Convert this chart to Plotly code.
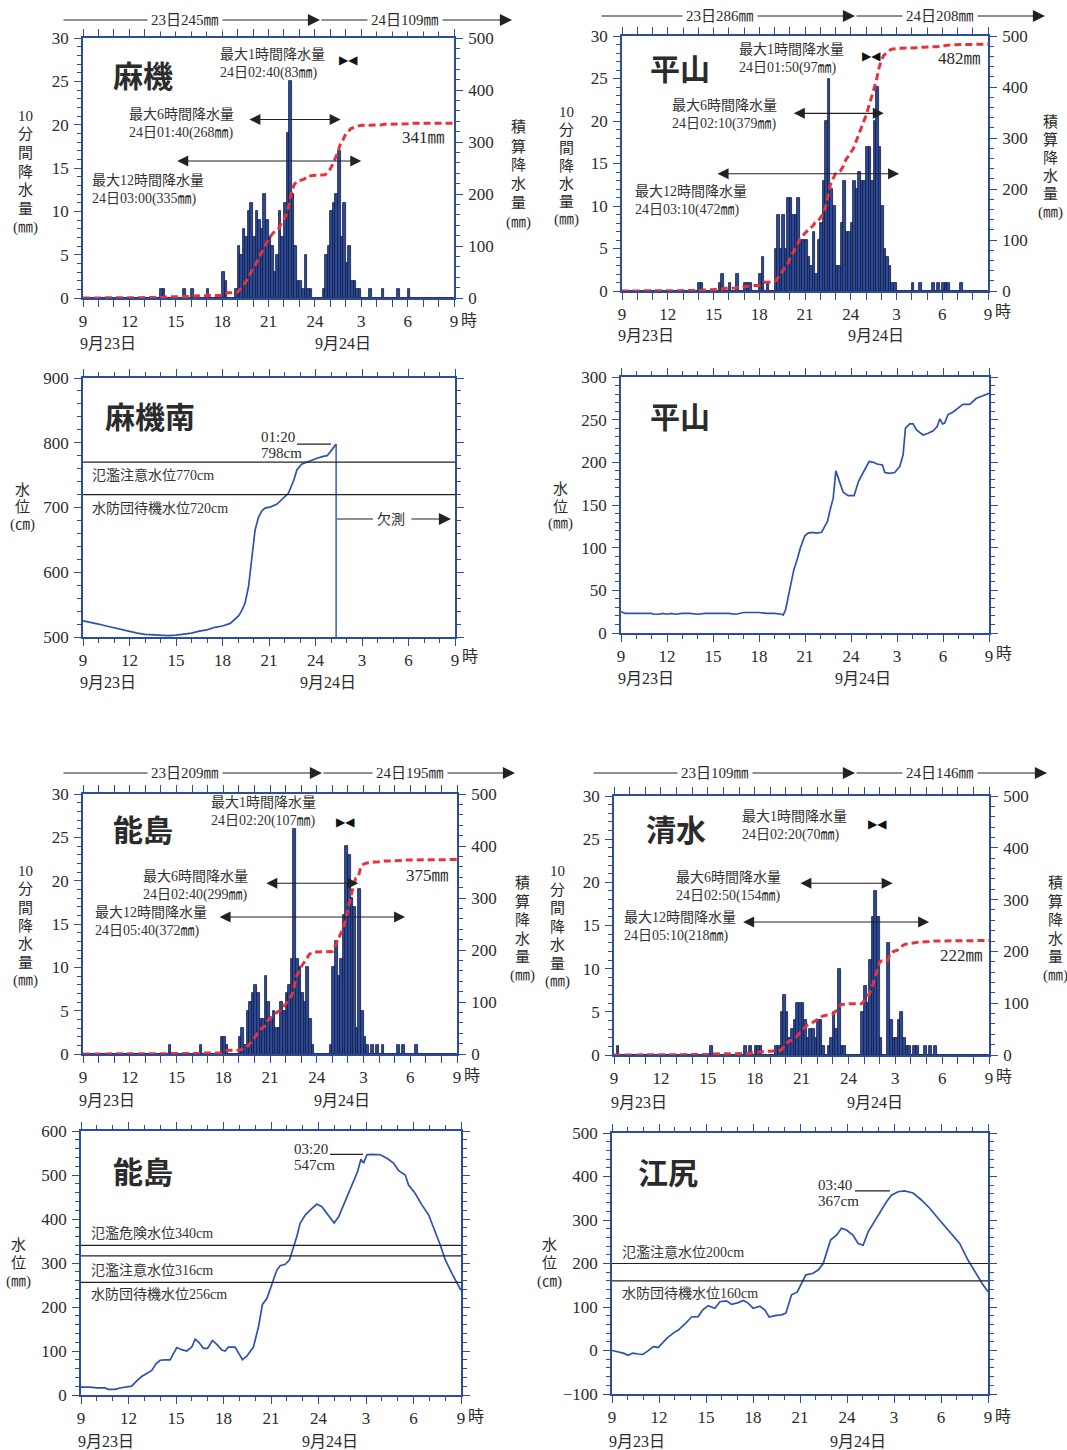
import numpy as np
import plotly.graph_objects as go

W, H = 1067, 1450
AX = "#2b4da0"
INK = "#2b2b2b"
NUM = "Liberation Serif, Noto Sans CJK JP, serif"

# ---------------- data ----------------
hour_ticks = [0, 3, 6, 9, 12, 15, 18, 21, 24]
hour_labels = ["9", "12", "15", "18", "21", "24", "3", "6", "9"]
date_labels = ["9月23日", "9月24日"]

# 10-minute rainfall (mm) from 23日09:00, one row per hour (6 values)
asahata_rain = [
    0, 0, 0, 0, 0, 0,   # 09
    0, 0, 0, 0, 0, 0,   # 10
    0, 0, 0, 0, 0, 0,   # 11
    0, 0, 0, 0, 0, 0,   # 12
    0, 0, 0, 0, 0, 0,   # 13
    1, 1, 0, 0, 0, 0,   # 14
    0, 0, 0, 1, 0, 0,   # 15
    1, 0, 0, 0, 0, 0,   # 16
    1, 0, 0, 0, 0, 0,   # 17
    3, 2, 0, 0, 0, 1,   # 18
    6, 5, 8, 7, 10, 11,  # 19
    7, 10, 9, 8, 12, 9,  # 20
    7, 6, 3, 5, 10, 7,  # 21
    11, 19, 25, 12, 6, 2,  # 22
    2, 1, 5, 1, 1, 0,   # 23
    0, 0, 0, 1, 5, 6,   # 00
    10, 11, 12, 17, 7, 11,  # 01
    4, 6, 2, 2, 1, 1,   # 02
    0, 0, 0, 1, 0, 0,   # 03
    0, 0, 1, 0, 0, 0,   # 04
    0, 0, 1, 0, 0, 0,   # 05
    1, 0, 0, 0, 0, 0,   # 06
    0, 0, 0, 0, 0, 0,   # 07
    0, 0, 0, 0, 0, 0,   # 08
]
hirayama_rain = [
    0, 0, 0, 0, 0, 0,
    0, 0, 0, 0, 0, 0,
    0, 0, 0, 0, 0, 0,
    0, 0, 0, 0, 0, 0,
    0, 0, 0, 0, 0, 0,
    1, 1, 0, 0, 0, 0,   # 14
    0, 0, 1, 2, 0, 0,   # 15
    1, 0, 0, 2, 0, 0,   # 16
    1, 1, 1, 0, 0, 0,   # 17
    2, 4, 0, 1, 0, 0,   # 18
    5, 9, 5, 9, 5, 11,  # 19
    11, 9, 9, 11, 6, 6,  # 20
    6, 4, 3, 7, 2, 6,   # 21
    8, 13, 20, 25, 12, 10,  # 22
    3, 3, 8, 13, 7, 7,  # 23
    8, 13, 12, 14, 13, 13,  # 00
    17, 17, 13, 20, 24, 17,  # 01
    10, 5, 4, 3, 1, 1,  # 02
    0, 0, 0, 0, 0, 0,   # 03
    1, 0, 0, 1, 0, 0,   # 04
    0, 0, 1, 0, 1, 0,   # 05
    1, 1, 1, 0, 0, 0,   # 06
    0, 1, 0, 0, 0, 0,   # 07
    0, 0, 0, 0, 0, 0,   # 08
]
noshima_rain = [
    0, 0, 0, 0, 0, 0,
    0, 0, 0, 0, 0, 0,
    0, 0, 0, 0, 0, 0,
    0, 0, 0, 0, 0, 0,
    0, 0, 0, 0, 0, 0,
    0, 0, 0, 1, 0, 0,   # 14
    0, 0, 0, 0, 0, 0,   # 15
    0, 0, 0, 1, 0, 0,   # 16
    0, 0, 0, 0, 0, 2,   # 17
    2, 1, 0, 0, 0, 0,   # 18
    2, 3, 1, 5, 6, 7,   # 19
    8, 7, 4, 4, 9, 6,   # 20
    4, 5, 3, 3, 6, 5,   # 21
    7, 8, 11, 26, 11, 10,  # 22
    7, 6, 10, 4, 1, 0,  # 23
    0, 0, 0, 0, 0, 1,   # 00
    10, 13, 9, 11, 16, 24,  # 01
    23, 18, 17, 3, 19, 5,  # 02
    2, 1, 0, 1, 0, 1,   # 03
    0, 1, 0, 0, 0, 0,   # 04
    0, 1, 0, 1, 0, 0,   # 05
    0, 0, 1, 0, 0, 0,   # 06
    0, 0, 0, 0, 0, 0,   # 07
    0, 0, 0, 0, 0, 0,   # 08
]
shimizu_rain = [
    0, 1, 0, 0, 0, 0,   # 09
    0, 0, 0, 0, 0, 0,
    0, 0, 0, 0, 0, 0,
    0, 0, 0, 0, 0, 0,
    0, 0, 0, 0, 0, 0,
    0, 0, 0, 0, 0, 0,   # 14
    0, 1, 0, 0, 0, 0,   # 15
    0, 0, 0, 0, 0, 0,   # 16
    0, 0, 1, 0, 1, 0,   # 17
    1, 1, 1, 0, 0, 0,   # 18
    0, 0, 1, 1, 5, 7,   # 19
    5, 2, 3, 4, 6, 6,   # 20
    6, 4, 2, 3, 3, 2,   # 21
    4, 4, 1, 0, 1, 2,   # 22
    5, 3, 10, 1, 1, 0,  # 23
    0, 0, 0, 0, 0, 5,   # 00
    8, 6, 11, 16, 19, 16,  # 01
    2, 0, 0, 13, 4, 2,  # 02
    2, 4, 5, 2, 1, 1,   # 03
    0, 1, 1, 0, 0, 1,   # 04
    0, 1, 0, 1, 0, 0,   # 05
    0, 0, 0, 0, 0, 0,
    0, 0, 0, 0, 0, 0,
    0, 0, 0, 0, 0, 0,
]

asahata_daily = [245, 109]
hirayama_daily = [286, 208]
noshima_daily = [209, 195]
shimizu_daily = [109, 146]
asahata_total = 341
hirayama_total = 482
noshima_total = 375
shimizu_total = 222
# (window hours, end time, amount mm)
asahata_max = [(1, "24日02:40", 83), (6, "24日01:40", 268), (12, "24日03:00", 335)]
hirayama_max = [(1, "24日01:50", 97), (6, "24日02:10", 379), (12, "24日03:10", 472)]
noshima_max = [(1, "24日02:20", 107), (6, "24日02:40", 299), (12, "24日05:40", 372)]
shimizu_max = [(1, "24日02:20", 70), (6, "24日02:50", 154), (12, "24日05:10", 218)]

# water levels: hours since 23日09:00, level
asahata_minami_t = [0, 0.5, 1, 1.5, 2, 2.5, 3, 3.5, 4, 4.5, 5, 5.5, 6, 6.5, 7, 7.5, 8, 8.5,
                    9, 9.5, 9.75, 10.05, 10.25, 10.45, 10.68, 10.89, 11.1, 11.32, 11.54, 11.75,
                    12.1, 12.5, 12.9, 13.25, 13.6, 13.8, 14.1, 14.5, 15.1, 15.5, 15.75, 16.05, 16.33]
asahata_minami_v = [525, 523, 520, 517, 514, 512, 509, 506, 504, 503, 502, 502, 503, 504, 506, 509, 511, 515,
                    517, 521, 527, 533, 541, 552, 578, 624, 665, 685, 695, 699,
                    701, 705, 714, 722, 742, 758, 767, 771, 776, 779, 780, 789, 798]
asahata_minami_th = [("氾濫注意水位", 770, -13), ("水防団待機水位", 720, -14)]
asahata_minami_peak = ("24日01:20", 798)

hirayama_t = [0, 0.25, 1, 2, 2.1, 2.5, 2.7, 3, 3.3, 3.5, 4, 4.5, 5, 5.5, 6, 7, 7.5, 8, 8.5, 9, 9.5, 10,
              10.5, 10.58, 10.73, 10.9, 11.08, 11.27, 11.49, 11.7, 11.99, 12.2, 12.49, 12.75, 13.08, 13.29,
              13.47, 13.66, 13.84, 14.01, 14.23, 14.49, 14.82, 15.2, 15.5, 15.83, 16.18, 16.48, 16.7, 17.05,
              17.2, 17.53, 17.85, 18.18, 18.4, 18.55, 18.83, 19.05, 19.27, 19.7, 20.03, 20.36, 20.62, 20.8,
              20.97, 21.11, 21.33, 21.66, 21.98, 22.3, 22.74, 23.18, 23.61, 24]
hirayama_v = [25, 23, 23, 23, 22, 22, 23, 22, 23, 22, 23, 23, 22, 23, 23, 23, 22, 24, 24, 24, 23, 23,
              22, 21, 27, 41, 57, 74, 86, 100, 114, 117, 118, 117, 118, 125,
              131, 146, 158, 190, 178, 165, 161, 161, 178, 190, 201, 200, 198, 197,
              188, 187, 188, 195, 209, 240, 245, 245, 238, 232, 234, 237, 242, 251,
              245, 246, 256, 259, 264, 268, 268, 275, 278, 281]

noshima_t = [0, 0.57, 1.0, 1.52, 1.73, 2.15, 2.47, 2.78, 3.2, 3.52, 3.83, 4.15, 4.47, 4.74, 4.99, 5.31,
             5.63, 5.84, 6.05, 6.36, 6.68, 7.0, 7.21, 7.48, 7.73, 7.99, 8.3, 8.58, 8.89, 9.1, 9.31, 9.73,
             9.99, 10.2, 10.47, 10.89, 11.21, 11.46, 11.74, 11.99, 12.16, 12.37, 12.58, 12.9, 13.17, 13.42,
             13.63, 13.84, 14.16, 14.52, 14.9, 15.21, 15.53, 15.85, 15.99, 16.27, 16.58, 16.9, 17.21, 17.47,
             17.68, 17.85, 18.06, 18.37, 18.9, 19.32, 19.74, 20.06, 20.48, 20.69, 21.11, 21.53, 21.96, 22.38,
             22.69, 23.01, 23.43, 24]
noshima_v = [18, 18, 16, 16, 13, 13, 16, 18, 20, 32, 42, 49, 56, 71, 79, 80,
             80, 94, 108, 103, 100, 109, 127, 118, 106, 106, 124, 115, 102, 100, 109, 109,
             94, 80, 88, 109, 155, 206, 219, 246, 265, 284, 294, 297, 307, 333,
             360, 390, 409, 422, 434, 428, 413, 398, 391, 405, 432, 458, 485, 508,
             536, 527, 546, 547, 546, 538, 527, 510, 500, 477, 458, 432, 409, 371,
             341, 307, 276, 238]
noshima_th = [("氾濫危険水位", 340, 12), ("氾濫注意水位", 316, -14), ("水防団待機水位", 256, -12)]
noshima_peak = ("24日03:20", 547)

ejiri_t = [0, 0.4, 0.72, 1.04, 1.32, 1.68, 1.96, 2.25, 2.64, 2.95, 3.17, 3.49, 3.91, 4.23, 4.66, 5.08,
           5.51, 5.78, 6.14, 6.57, 6.89, 7.31, 7.63, 8.06, 8.38, 8.69, 9.01, 9.44, 9.76, 10.03, 10.4,
           10.82, 11.1, 11.46, 11.82, 12.1, 12.37, 12.8, 13.16, 13.48, 13.69, 13.95, 14.33, 14.65, 14.97,
           15.39, 15.71, 16.03, 16.35, 16.67, 17.09, 17.52, 17.84, 18.26, 18.67, 19.22, 19.75, 20.28,
           20.81, 21.45, 22.19, 22.72, 23.26, 23.68, 24]
ejiri_v = [0, -4, -6, -11, -6, -8, -9, -2, 9, 7, 15, 28, 40, 47, 61, 77,
           78, 93, 103, 97, 112, 114, 106, 110, 115, 109, 97, 102, 93, 77, 80,
           82, 86, 128, 134, 154, 174, 177, 185, 200, 223, 254, 265, 281, 277,
           265, 246, 242, 273, 292, 315, 342, 357, 365, 367, 362, 346, 327,
           304, 277, 246, 208, 174, 151, 135]
ejiri_th = [("氾濫注意水位", 200, 12), ("水防団待機水位", 160, -13)]
ejiri_peak = ("24日03:40", 367)

# ---------------- layout helpers ----------------
BOX = {  # plot area in page pixels: x0, x1, ytop, ybottom
    1: (83, 454, 38, 298),
    2: (622, 988, 36, 291),
    3: (83, 455, 378, 637),
    4: (621, 989, 377, 633),
    5: (83, 457, 794, 1054),
    6: (614, 989, 796, 1055),
    7: (81, 461, 1131, 1395),
    8: (612, 988, 1133, 1394),
}


def nm(k):
    return "" if k == 1 else str(k)


def hrs(stamp):
    day, hh, mm = int(stamp[:2]), int(stamp[3:5]), int(stamp[6:8])
    return (day - 23) * 24 + hh + mm / 60 - 9


def px(x):
    return x / W


def py(y):
    return 1 - y / H


layout = dict(width=W, height=H, margin=dict(l=0, r=0, t=0, b=0, pad=0), autosize=False,
              paper_bgcolor="white", plot_bgcolor="white", showlegend=False,
              bargap=0, barmode="overlay")
annots, shapes = [], []
fig = go.Figure()

TICKFONT = dict(family=NUM, size=17, color=INK)


def add_xaxis(k):
    x0, x1, yt, yb = BOX[k]
    layout["xaxis" + nm(k)] = dict(
        domain=[px(x0), px(x1)], anchor="y" + nm(k), range=[0, 24], automargin=False,
        tickmode="array", tickvals=hour_ticks, ticktext=hour_labels,
        ticks="outside", ticklen=7, tickwidth=1.3, tickcolor=AX,
        showline=True, linecolor=AX, linewidth=1.6, mirror="allticks",
        minor=dict(tickmode="linear", tick0=0, dtick=1, ticks="outside", ticklen=4,
                   tickwidth=1.1, tickcolor=AX, showgrid=False),
        showgrid=False, zeroline=False, tickfont=TICKFONT, ticklabelstandoff=0)


def add_yaxis(k, rng, dtick, mdtick, mirror):
    x0, x1, yt, yb = BOX[k]
    layout["yaxis" + nm(k)] = dict(
        domain=[py(yb), py(yt)], anchor="x" + nm(k), range=rng, automargin=False,
        tickmode="linear", tick0=rng[0], dtick=dtick,
        ticks="outside", ticklen=7, tickwidth=1.3, tickcolor=AX,
        showline=True, linecolor=AX, linewidth=1.6, mirror=mirror,
        minor=dict(tickmode="linear", tick0=rng[0], dtick=mdtick, ticks="outside", ticklen=4,
                   tickwidth=1.1, tickcolor=AX, showgrid=False),
        showgrid=False, zeroline=False, tickfont=TICKFONT, ticklabelstandoff=2)


def text(x, y, s, size=14, xanchor="left", yanchor="middle", bg=None, family=NUM, color=INK):
    d = dict(x=px(x), y=py(y), xref="paper", yref="paper", text=s, showarrow=False,
             xanchor=xanchor, yanchor=yanchor, font=dict(family=family, size=size, color=color))
    if bg:
        d.update(bgcolor=bg, borderpad=3)
    annots.append(d)


def paper_arrow(xa, xb, y):
    annots.append(dict(x=px(xb), y=py(y), xref="paper", yref="paper", ax=xa - xb, ay=0,
                       axref="pixel", ayref="pixel", showarrow=True, arrowhead=2, arrowsize=2.2,
                       arrowwidth=1.1, arrowcolor="#222", text="", standoff=0))


def vtitle(x, y0, step, items, size=15):
    for i, s in enumerate(items):
        text(x, y0 + i * step, s, size=size, xanchor="center")


def axis_extras(k, row_y, dates_x, date_y):
    x0, x1, yt, yb = BOX[k]
    text(x1 + 5, row_y, "時", size=16, xanchor="left")
    for dx, lab in zip(dates_x, date_labels):
        text(dx, date_y, lab, size=16, xanchor="center")


# ---------------- rainfall panels ----------------
RAIN = [
    dict(k=1, r=9, rain=asahata_rain, name="麻機", daily=asahata_daily, total=asahata_total,
         maxw=asahata_max, name_xy=(143, 76), hdr=(20, 62, 320, 512, 185, 405),
         lab={1: (218, 45), 6: (127, 105), 12: (90, 171)}, ay={1: 27.5, 6: 20.6, 12: 15.8},
         tot_xy=(447, 137), yl=(25, 116, 18.5), yr=(518, 127, 19), row=320, dates=(108, 343), dy=343),
    dict(k=2, r=10, rain=hirayama_rain, name="平山", daily=hirayama_daily, total=hirayama_total,
         maxw=hirayama_max, name_xy=(680, 70), hdr=(16, 600, 855, 1045, 720, 940),
         lab={1: (737, 40), 6: (670, 96), 12: (633, 182)}, ay={1: 27.6, 6: 20.9, 12: 13.8},
         tot_xy=(983, 59), yl=(566, 112, 18), yr=(1050, 122, 18), row=311, dates=(646, 876), dy=335),
    dict(k=5, r=11, rain=noshima_rain, name="能島", daily=noshima_daily, total=noshima_total,
         maxw=noshima_max, name_xy=(143, 830), hdr=(773, 62, 322, 515, 185, 410),
         lab={1: (209, 793), 6: (141, 867), 12: (93, 903)}, ay={1: 26.8, 6: 19.7, 12: 15.8},
         tot_xy=(451, 875), yl=(25, 871, 18.3), yr=(522, 883, 18.5), row=1075, dates=(107, 342), dy=1100),
    dict(k=6, r=12, rain=shimizu_rain, name="清水", daily=shimizu_daily, total=shimizu_total,
         maxw=shimizu_max, name_xy=(676, 830), hdr=(773, 592, 855, 1047, 715, 940),
         lab={1: (740, 807), 6: (674, 868), 12: (622, 908)}, ay={1: 26.8, 6: 19.9, 12: 15.4},
         tot_xy=(985, 955), yl=(557, 871, 18.5), yr=(1055, 883, 18.5), row=1076, dates=(639, 875), dy=1102),
]

for P in RAIN:
    k, r = P["k"], P["r"]
    add_xaxis(k)
    add_yaxis(k, [0, 30], 5, 1, False)
    x0, x1, yt, yb = BOX[k]
    layout["yaxis" + str(r)] = dict(
        overlaying="y" + nm(k), side="right", anchor="x" + nm(k), range=[0, 500], automargin=False,
        tickmode="linear", tick0=0, dtick=100, ticks="outside", ticklen=7, tickwidth=1.3,
        tickcolor=AX, showline=True, linecolor=AX, linewidth=1.6,
        minor=dict(tickmode="linear", tick0=0, dtick=20, ticks="outside", ticklen=4,
                   tickwidth=1.1, tickcolor=AX, showgrid=False),
        showgrid=False, zeroline=False, tickfont=TICKFONT, ticklabelstandoff=2)
    vals = np.array(P["rain"], dtype=float)
    n = len(vals)
    centers = (np.arange(n) + 0.5) / 6
    ends = np.concatenate([[0.0], (np.arange(n) + 1) / 6])
    cum = np.concatenate([[0.0], np.cumsum(vals)])
    fig.add_trace(go.Bar(x=centers, y=vals, width=1 / 6, xaxis="x" + nm(k), yaxis="y" + nm(k),
                         marker=dict(color="#2a4a9e", line=dict(color="#161c38", width=0.8))))
    fig.add_trace(go.Scatter(x=ends, y=cum, xaxis="x" + nm(k), yaxis="y" + str(r), mode="lines",
                             line=dict(color="#e8323a", width=3, dash="7px,4px")))
    # header with daily totals
    hy, a0, am, a1, t1, t2 = P["hdr"]
    paper_arrow(a0, am, hy)
    paper_arrow(am, a1, hy)
    text(t1, hy, f"23日{P['daily'][0]}㎜", size=15, xanchor="center", bg="white")
    text(t2, hy, f"24日{P['daily'][1]}㎜", size=15, xanchor="center", bg="white")
    # station name
    text(P["name_xy"][0], P["name_xy"][1], f"<b>{P['name']}</b>", size=30, xanchor="center")
    # max windows
    for hours, stamp, amt in P["maxw"]:
        lx, ly = P["lab"][hours]
        annots.append(dict(x=px(lx), y=py(ly), xref="paper", yref="paper", showarrow=False,
                           xanchor="left", yanchor="top", align="left",
                           text=f"最大{hours}時間降水量<br>{stamp}({amt}㎜)",
                           font=dict(family=NUM, size=14, color="#333")))
        te = hrs(stamp)
        ts = te - hours
        yv = P["ay"][hours]
        if hours == 1:
            annots.append(dict(x=(ts + te) / 2, y=yv, xref="x" + nm(k), yref="y" + nm(k),
                               text="▶◀", showarrow=False,
                               font=dict(family="DejaVu Sans", size=12, color="#111")))
        else:
            annots.append(dict(x=te, y=yv, ax=ts, ay=yv, xref="x" + nm(k), yref="y" + nm(k),
                               axref="x" + nm(k), ayref="y" + nm(k), text="", showarrow=True,
                               arrowhead=2, startarrowhead=2, arrowside="end+start",
                               arrowsize=2.0, startarrowsize=2.0, arrowwidth=1.1,
                               arrowcolor="#222", standoff=0, startstandoff=0))
    text(P["tot_xy"][0], P["tot_xy"][1], f"{P['total']}㎜", size=17, xanchor="right")
    vtitle(P["yl"][0], P["yl"][1], P["yl"][2], ["10", "分", "間", "降", "水", "量", "(㎜)"])
    vtitle(P["yr"][0], P["yr"][1], P["yr"][2], ["積", "算", "降", "水", "量", "(㎜)"])
    axis_extras(k, P["row"], P["dates"], P["dy"])

# ---------------- water level panels ----------------
LEVEL = [
    dict(k=3, t=asahata_minami_t, v=asahata_minami_v, name="麻機南", rng=[500, 900], dt=100, mdt=20,
         th=asahata_minami_th, peak=asahata_minami_peak, name_xy=(150, 418),
         peak_txt=(259, 437), peak_line=(297, 331), unit="(㎝)", yl=(22, 490, 17.5),
         row=657, dates=(108, 328), dy=682),
    dict(k=4, t=hirayama_t, v=hirayama_v, name="平山", rng=[0, 300], dt=50, mdt=10,
         th=[], peak=None, name_xy=(680, 417), unit="(㎜)", yl=(560, 489, 17.5),
         row=653, dates=(646, 863), dy=678),
    dict(k=7, t=noshima_t, v=noshima_v, name="能島", rng=[0, 600], dt=100, mdt=20,
         th=noshima_th, peak=noshima_peak, name_xy=(143, 1172),
         peak_txt=(292, 1149), peak_line=(330, 363), unit="(㎜)", yl=(18, 1245, 18),
         row=1416, dates=(106, 330), dy=1441),
    dict(k=8, t=ejiri_t, v=ejiri_v, name="江尻", rng=[-100, 500], dt=100, mdt=20,
         th=ejiri_th, peak=ejiri_peak, name_xy=(668, 1173),
         peak_txt=(816, 1185), peak_line=(855, 890), unit="(㎝)", yl=(550, 1245, 18),
         row=1416, dates=(637, 858), dy=1441),
]

for P in LEVEL:
    k = P["k"]
    add_xaxis(k)
    add_yaxis(k, P["rng"], P["dt"], P["mdt"], "allticks")
    fig.add_trace(go.Scatter(x=P["t"], y=P["v"], xaxis="x" + nm(k), yaxis="y" + nm(k), mode="lines",
                             line=dict(color="#2d52ad", width=1.7)))
    text(P["name_xy"][0], P["name_xy"][1], f"<b>{P['name']}</b>", size=30, xanchor="center")
    for lab, lv, shift in P["th"]:
        shapes.append(dict(type="line", xref="x" + nm(k) + " domain", yref="y" + nm(k),
                           x0=0, x1=1, y0=lv, y1=lv, line=dict(color="#222", width=1.2)))
        annots.append(dict(x=0.02, y=lv, xref="x" + nm(k) + " domain", yref="y" + nm(k),
                           text=f"{lab}{lv}cm", showarrow=False, xanchor="left", yanchor="middle",
                           yshift=shift, font=dict(family=NUM, size=14, color="#333")))
    if P["peak"]:
        stamp, pv = P["peak"]
        tx, ty = P["peak_txt"]
        text(tx, ty, stamp[3:], size=15, xanchor="left")
        text(tx, ty + 16, f"{pv}cm", size=15, xanchor="left")
        la, lb = P["peak_line"]
        shapes.append(dict(type="line", xref="paper", yref="y" + nm(k), x0=px(la), x1=px(lb),
                           y0=pv, y1=pv, line=dict(color="#222", width=1.2)))
    vtitle(P["yl"][0], P["yl"][1], P["yl"][2], ["水", "位", P["unit"]])
    axis_extras(k, P["row"], P["dates"], P["dy"])

# 麻機南: missing data after the last observation
t_last, v_last = asahata_minami_t[-1], asahata_minami_v[-1]
fig.add_trace(go.Scatter(x=[t_last, t_last], y=[v_last, LEVEL[0]["rng"][0]], xaxis="x3", yaxis="y3",
                         mode="lines", line=dict(color="#2d52ad", width=1.4)))
shapes.append(dict(type="line", xref="paper", yref="paper", x0=px(337), x1=px(373),
                   y0=py(519), y1=py(519), line=dict(color="#222", width=1.1)))
text(391, 519, "欠測", size=14, xanchor="center")
paper_arrow(410, 451, 519)

layout["annotations"] = annots
layout["shapes"] = shapes
fig.update_layout(**layout)
fig.write_html("out.html", config={"displayModeBar": False},
               post_script="document.body.style.margin='0';")
